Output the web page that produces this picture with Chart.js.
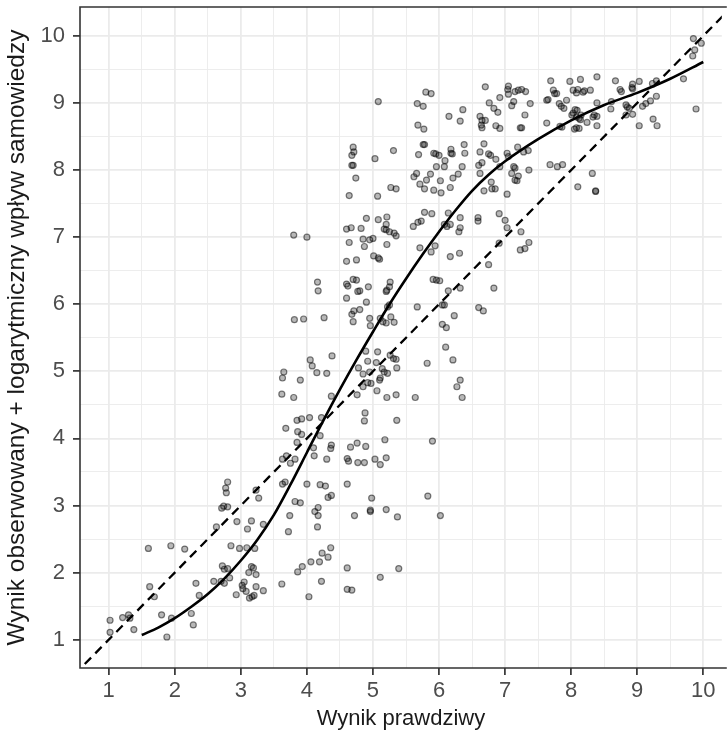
<!DOCTYPE html>
<html>
<head>
<meta charset="utf-8">
<script src="https://cdn.jsdelivr.net/npm/chart.js@4.4.1/dist/chart.umd.min.js"></script>
<style>
  html, body { margin: 0; padding: 0; background: #fff; }
  canvas { display: block; }
</style>
</head>
<body>
<canvas id="myChart" width="727" height="738"></canvas>
<script>
'use strict';

// axis ticks (majors get labels, halves are minor grid only)
const xTicks = [1, 1.5, 2, 2.5, 3, 3.5, 4, 4.5, 5, 5.5, 6, 6.5, 7, 7.5, 8, 8.5, 9, 9.5, 10];
const yTicks = [1, 1.5, 2, 2.5, 3, 3.5, 4, 4.5, 5, 5.5, 6, 6.5, 7, 7.5, 8, 8.5, 9, 9.5, 10];

const scores = [
  [6.70,9.24],[5.80,9.16],[5.88,9.14],[6.92,9.08],[5.08,9.02],[5.67,8.99],[5.76,8.95],[6.76,9.00],
  [6.83,8.92],[6.89,8.86],[6.36,8.90],[6.15,8.80],[6.32,8.73],[6.62,8.80],[6.65,8.74],[6.70,8.74],
  [6.65,8.63],[6.64,8.67],[6.86,8.66],[6.92,8.62],[5.68,8.67],[5.77,8.61],[5.76,8.38],[5.78,8.38],
  [5.69,8.23],[5.92,8.25],[5.95,8.24],[6.00,8.22],[6.18,8.31],[6.18,8.25],[6.20,8.24],[6.38,8.38],
  [6.39,8.25],[6.62,8.27],[6.68,8.39],[6.75,8.24],[6.78,8.22],[6.86,8.16],[5.03,8.17],[5.31,8.29],
  [4.70,8.34],[4.71,8.27],[4.68,8.22],[4.68,8.07],[4.70,8.07],[4.74,7.88],[4.64,7.62],[5.07,7.61],
  [5.27,7.74],[5.35,7.72],[6.09,8.14],[6.08,8.05],[5.96,8.05],[6.35,8.05],[6.29,7.94],[6.21,7.88],
  [6.17,7.74],[6.02,7.84],[5.92,7.70],[6.03,7.66],[5.62,7.90],[5.66,7.95],[5.71,7.79],[5.78,7.72],
  [5.81,7.85],[5.87,7.94],[6.60,8.07],[6.62,7.95],[6.65,8.11],[6.79,7.82],[6.80,7.72],[6.85,7.72],
  [6.68,7.69],[6.92,8.05],[5.78,7.37],[5.89,7.35],[6.14,7.36],[6.32,7.29],[6.59,7.29],[6.59,7.24],
  [6.91,7.35],[4.90,7.28],[5.08,7.26],[5.21,7.30],[5.20,7.19],[5.17,7.12],[4.67,7.14],[4.60,7.12],
  [4.82,7.13],[5.61,7.16],[5.68,7.22],[5.73,7.24],[6.08,7.19],[6.12,7.16],[6.17,7.19],[6.32,7.14],
  [9.85,9.96],[9.97,9.89],[9.87,9.79],[9.84,9.70],[9.70,9.36],[9.89,8.91],[9.29,9.33],[9.23,9.29],
  [9.29,9.10],[9.20,9.03],[9.08,8.95],[9.13,8.99],[9.24,8.76],[9.30,8.66],[9.03,8.66],[8.93,9.28],
  [9.03,9.32],[8.93,9.21],[8.92,9.23],[8.83,8.97],[8.85,8.94],[8.88,8.92],[8.83,8.82],[8.93,8.83],
  [8.67,9.33],[8.74,9.20],[8.76,9.17],[8.61,9.02],[8.60,8.91],[8.39,9.39],[8.39,9.00],[8.39,8.80],
  [8.39,8.66],[8.29,9.19],[8.20,9.18],[8.18,9.16],[8.10,9.20],[8.08,9.15],[8.03,9.19],[8.14,9.35],
  [7.98,9.32],[7.69,9.33],[7.73,9.19],[7.75,9.14],[7.78,9.14],[7.63,9.04],[7.65,9.05],[7.93,9.04],
  [7.82,8.99],[7.85,8.95],[7.89,8.92],[8.06,8.90],[8.03,8.85],[8.09,8.89],[8.01,8.82],[8.08,8.79],
  [8.15,8.82],[8.12,8.77],[8.14,8.75],[8.35,8.82],[8.33,8.79],[8.24,8.71],[7.63,8.70],[7.86,8.64],
  [7.83,8.65],[8.05,8.61],[8.08,8.63],[8.12,8.62],[7.38,8.99],[7.30,8.82],[7.25,8.63],[7.23,8.63],
  [7.05,9.25],[7.04,9.20],[7.05,9.13],[7.15,9.17],[7.20,9.19],[7.25,9.20],[7.31,9.17],[7.13,9.02],
  [7.10,8.96],[7.19,8.34],[7.28,8.27],[7.35,8.29],[7.03,8.25],[7.05,8.20],[7.13,8.05],[7.15,8.03],
  [7.36,8.00],[7.10,7.95],[7.20,7.91],[7.18,7.84],[7.15,7.85],[7.03,7.64],[7.68,8.08],[7.79,8.05],
  [7.87,8.08],[8.10,7.75],[8.32,7.95],[8.37,7.68],[8.37,7.69],[7.00,7.25],
  [7.03,7.14],[7.24,7.08],[7.23,6.81],[7.30,6.83],[7.36,6.92],
  [3.65,4.99],[3.63,4.90],[3.62,4.66],[3.68,4.15],
  [3.80,7.03],[4.00,7.00],[5.20,7.11],[5.25,7.08],[5.32,7.06],[5.35,7.02],[4.64,6.92],[4.85,6.97],
  [4.87,6.86],[4.95,6.96],[5.00,6.98],[5.21,6.89],[4.60,6.64],[4.75,6.66],[5.01,6.72],[5.08,6.69],
  [5.10,6.67],[5.71,6.84],[5.88,6.78],[5.94,6.87],[6.17,6.71],[6.31,6.76],[6.30,7.08],[6.75,6.59],
  [6.91,6.91],[6.83,6.24],[4.16,6.33],[4.17,6.20],[4.60,6.30],[4.62,6.27],[4.60,6.09],[4.70,6.37],
  [4.75,6.36],[4.93,6.26],[4.80,6.20],[4.77,6.19],[4.90,6.03],[5.26,6.33],[5.25,6.26],[5.21,6.21],
  [5.20,6.19],[5.91,6.37],[5.96,6.36],[6.01,6.35],[6.14,6.20],[6.32,6.24],[3.95,5.78],[3.81,5.77],
  [4.26,5.80],[4.68,5.85],[4.71,5.90],[4.80,5.92],[4.70,5.74],[4.95,5.79],[4.96,5.68],[5.11,5.79],
  [5.15,5.74],[5.20,5.72],[5.27,5.81],[5.32,5.73],[5.25,5.99],[5.22,5.96],[5.67,5.96],[6.05,5.99],
  [6.08,5.99],[6.23,5.83],[6.60,5.95],[6.67,5.90],[6.05,5.70],[6.11,5.65],[6.10,5.36],[6.21,5.17],
  [5.82,5.12],[6.32,4.87],[6.27,4.77],[6.35,4.61],[4.05,5.17],[4.08,5.08],[4.15,4.98],[4.30,4.97],
  [4.38,5.23],[3.90,4.87],[3.80,4.61],[4.89,5.30],[5.07,5.29],[5.26,5.24],[5.31,5.19],[5.35,5.18],
  [5.36,5.05],[4.92,5.15],[5.05,5.13],[4.78,5.05],[4.85,4.96],[4.95,4.99],[5.14,5.04],[5.17,4.99],
  [5.22,4.97],[5.11,4.90],[5.10,4.87],[4.97,4.82],[4.92,4.83],[4.85,4.77],[5.06,4.71],[4.76,4.65],
  [5.21,4.61],[5.35,4.65],[4.37,4.63],[5.64,4.61],[3.85,4.27],[3.92,4.29],[4.04,4.31],[4.22,4.31],
  [3.86,4.10],[3.92,4.06],[4.20,4.04],[3.85,3.94],[4.88,4.38],[4.87,4.26],[5.36,4.27],[5.18,3.98],
  [5.90,3.96],[4.10,3.86],[4.37,3.90],[4.36,3.85],[4.66,3.87],[4.76,3.93],[4.89,3.88],
  [4.11,3.74],[4.30,3.69],[3.82,3.69],[4.61,3.70],[4.63,3.66],[4.77,3.64],[4.87,3.64],[5.03,3.69],
  [5.11,3.61],[5.20,3.71],[4.00,3.32],[4.20,3.31],[4.28,3.29],[4.61,3.32],[3.90,3.04],[4.32,3.12],
  [4.37,3.15],[4.98,3.11],[5.83,3.14],[4.12,2.91],[4.17,2.97],[4.17,2.85],[4.72,2.85],[4.96,2.91],
  [4.96,2.93],[5.20,2.94],[5.37,2.83],[6.02,2.85],[4.16,2.68],[4.36,2.37],[4.23,2.29],[4.32,2.23],
  [4.19,2.16],[4.06,2.16],[3.93,2.09],[3.86,2.01],[4.61,2.07],[5.39,2.06],[5.11,1.93],[4.22,1.87],
  [4.61,1.75],[4.68,1.74],[4.03,1.64],
  [3.63,3.69],[3.69,3.74],[3.75,3.63],[3.63,3.32],[3.67,3.35],[3.82,3.06],[3.74,2.85],[3.72,2.61],
  [3.62,1.83],[2.80,3.35],[2.77,3.26],[2.78,3.19],[2.71,2.96],[2.74,2.99],[2.80,2.98],[2.63,2.68],
  [2.94,2.76],[3.10,2.65],[3.16,2.77],[3.34,2.72],[3.23,3.23],[3.27,3.11],[2.85,2.40],[2.98,2.36],
  [3.09,2.37],[3.21,2.36],[2.72,2.10],[2.75,2.05],[2.80,2.06],[2.83,1.92],[2.70,1.87],[2.75,1.84],
  [2.59,1.87],[3.16,2.09],[3.19,2.07],[3.23,1.97],[3.12,2.00],[2.93,1.67],[3.02,1.81],[3.05,1.86],
  [3.03,1.76],[3.08,1.72],[3.13,1.62],[3.17,1.64],[3.20,1.66],[3.23,1.79],[3.34,1.73],[2.32,1.84],
  [2.37,1.66],[2.28,1.22],[2.25,1.39],[1.95,1.32],[1.80,1.37],[1.62,1.79],[1.69,1.64],[1.60,2.36],
  [1.94,2.40],[2.15,2.35],[1.38,1.15],[1.21,1.33],[1.30,1.37],[1.32,1.32],[1.02,1.29],[1.02,1.11],
  [1.88,1.04]
];

// smoothed trend
const trendX = [1.5, 1.75, 2.0, 2.25, 2.5, 2.75, 3.0, 3.25, 3.5, 3.75, 4.0, 4.25, 4.5, 4.75, 5.0, 5.25, 5.5, 5.75, 6.0, 6.25, 6.5, 6.75, 7.0, 7.5, 8.0, 8.5, 9.0, 9.5, 10.0];
const trendY = [1.07, 1.18, 1.32, 1.49, 1.68, 1.91, 2.18, 2.49, 2.86, 3.31, 3.79, 4.27, 4.73, 5.17, 5.59, 6.00, 6.38, 6.74, 7.08, 7.40, 7.69, 7.93, 8.13, 8.46, 8.74, 8.97, 9.15, 9.36, 9.61];

// identity line y = x
const identity = [0, 11];

const FONT_FAMILY = "'Liberation Sans', Arial, sans-serif";

const isMajor = v => Number.isInteger(v);

const panelBorder = {
    id: 'panelBorder',
    afterDatasetsDraw(chart) {
        const { ctx, chartArea: a } = chart;
        ctx.save();
        ctx.strokeStyle = '#333333';
        ctx.lineWidth = 1.6;
        ctx.beginPath();
        ctx.moveTo(a.right + 5, a.top);
        ctx.lineTo(a.left, a.top);
        ctx.lineTo(a.left, a.bottom);
        ctx.lineTo(a.right + 5, a.bottom);
        ctx.stroke();
        ctx.restore();
    }
};

function gridOpts() {
    return {
        color: '#ebebeb',
        lineWidth: c => (c.tick && isMajor(c.tick.value)) ? 1.8 : 0.9,
        tickColor: c => (c.tick && isMajor(c.tick.value)) ? '#333333' : 'rgba(0,0,0,0)',
        tickWidth: 1.7,
        tickLength: 7,
        drawOnChartArea: true,
    };
}

const ctx = document.getElementById('myChart');
const myChart = new Chart(ctx, {
    type: 'scatter',
    data: {
        datasets: [
            {
                data: identity.map(v => ({ x: v, y: v })),
                showLine: true,
                borderColor: '#000',
                borderWidth: 2.3,
                borderDash: [9, 6],
                pointRadius: 0,
            },
            {
                data: trendX.map((x, i) => ({ x: x, y: trendY[i] })),
                showLine: true,
                borderColor: '#000',
                borderWidth: 2.6,
                cubicInterpolationMode: 'monotone',
                pointRadius: 0,
            },
            {
                data: scores.map(p => ({ x: p[0], y: p[1] })),
                pointRadius: 3,
                pointBackgroundColor: 'rgba(0,0,0,0.28)',
                pointBorderColor: 'rgba(0,0,0,0.5)',
                pointBorderWidth: 1.2,
            },
        ]
    },
    options: {
        responsive: false,
        animation: false,
        layout: { padding: { top: 7, left: 0, right: 0, bottom: 0 } },
        plugins: {
            legend: { display: false },
            tooltip: { enabled: false },
        },
        scales: {
            x: {
                type: 'linear',
                min: 0.565,
                max: 10.28,
                afterBuildTicks: s => { s.ticks = xTicks.map(v => ({ value: v })); },
                afterFit: s => { s.height = 70; s.paddingLeft = 0; s.paddingRight = 0; },
                ticks: {
                    autoSkip: false,
                    maxRotation: 0,
                    padding: 3,
                    color: '#4d4d4d',
                    font: { family: FONT_FAMILY, size: 22 },
                    callback: v => isMajor(v) ? String(v) : '',
                },
                grid: gridOpts(),
                border: { display: false },
                title: {
                    display: true,
                    text: 'Wynik prawdziwy',
                    color: '#1a1a1a',
                    font: { family: FONT_FAMILY, size: 22 },
                    padding: { top: 0, bottom: 6 },
                },
            },
            y: {
                type: 'linear',
                min: 0.578,
                max: 10.43,
                afterBuildTicks: s => { s.ticks = yTicks.map(v => ({ value: v })); },
                afterFit: s => { s.width = 80; s.paddingTop = 0; s.paddingBottom = 0; },
                ticks: {
                    autoSkip: false,
                    padding: 8,
                    color: '#4d4d4d',
                    font: { family: FONT_FAMILY, size: 22 },
                    callback: v => isMajor(v) ? String(v) : '',
                },
                grid: gridOpts(),
                border: { display: false },
                title: {
                    display: true,
                    text: 'Wynik obserwowany + logarytmiczny wpływ samowiedzy',
                    color: '#1a1a1a',
                    font: { family: FONT_FAMILY, size: 24.5 },
                    padding: { top: 3, bottom: 0 },
                },
            },
        },
    },
    plugins: [panelBorder],
});
</script>
</body>
</html>
